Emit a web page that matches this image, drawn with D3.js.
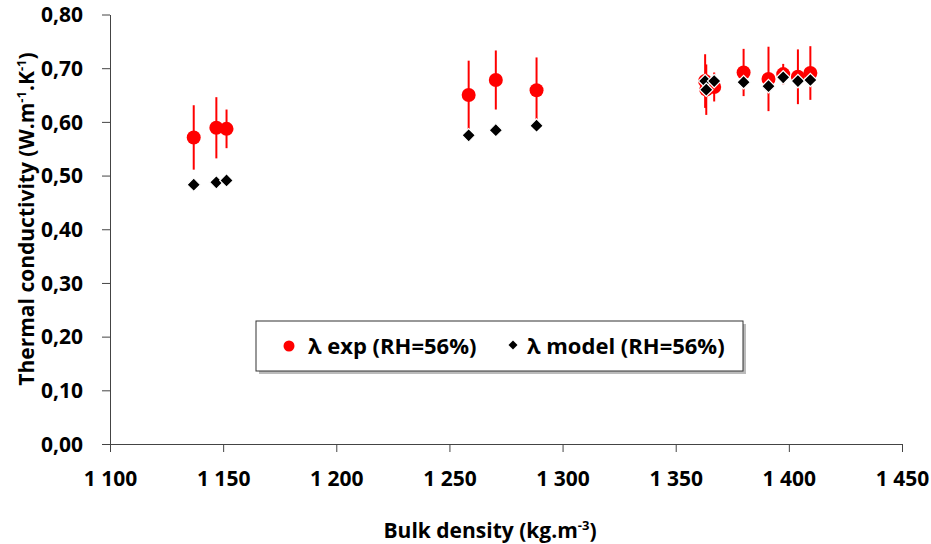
<!DOCTYPE html>
<html lang="en">
<head>
<meta charset="utf-8">
<title>Thermal conductivity vs bulk density</title>
<script src="https://d3js.org/d3.v7.min.js"></script>
<style>
  body { margin: 0; background: #fff; }
  svg { display: block; font-family: "Open Sans", sans-serif; font-weight: bold; }
</style>
</head>
<body>
<div id="chart"></div>
<script>
// bulk density (kg.m-3) of each sample
var density = [1137, 1147, 1151.5, 1258.5, 1270.5, 1288.5, 1363, 1363.5, 1367, 1380, 1391, 1397.5, 1404, 1409.5];
// measured conductivity and its error
var lambdaExp = [0.571, 0.589, 0.587, 0.650, 0.678, 0.659, 0.676, 0.660, 0.665, 0.692, 0.680, 0.689, 0.684, 0.691];
var lambdaErr = [0.060, 0.057, 0.036, 0.064, 0.055, 0.061, 0.050, 0.047, 0.027, 0.044, 0.060, 0.019, 0.051, 0.050];
// modelled conductivity
var lambdaModel = [0.483, 0.4875, 0.491, 0.575, 0.5845, 0.593, 0.676, 0.660, 0.676, 0.674, 0.6665, 0.683, 0.676, 0.678];

var xTicks = [1100, 1150, 1200, 1250, 1300, 1350, 1400, 1450];
var yTicks = [0, 0.1, 0.2, 0.3, 0.4, 0.5, 0.6, 0.7, 0.8];
var seriesNames = ["λ exp (RH=56%)", "λ model (RH=56%)"];

var width = 931, height = 544;
var margin = {top: 14.5, right: 29, bottom: 100, left: 110};

var svg = d3.select("#chart").append("svg")
  .attr("width", width)
  .attr("height", height);

var x = d3.scaleLinear()
  .domain([1100, 1450])
  .range([margin.left, width - margin.right]);

var y = d3.scaleLinear()
  .domain([0, 0.8])
  .range([height - margin.bottom, margin.top]);

var fmtX = d => d3.format(",")(d).replace(",", " ");
var fmtY = d => d3.format(".2f")(d).replace(".", ",");

var xAxis = g => g
  .attr("transform", `translate(0,${y(0)})`)
  .call(d3.axisBottom(x).tickValues(xTicks).tickFormat(fmtX).tickSize(8).tickSizeOuter(0))
  .call(g => g.selectAll("text").attr("dy", 0).attr("y", 42)
    .style("font-size", "21px").style("font-family", "Open Sans").style("font-weight", "bold").attr("fill", "#000"))
  .call(g => g.selectAll("line, path").attr("stroke", "#444"));

var yAxis = g => g
  .attr("transform", `translate(${x(1100)},0)`)
  .call(d3.axisLeft(y).tickValues(yTicks).tickFormat(fmtY).tickSize(8).tickSizeOuter(0))
  .call(g => g.selectAll("text").attr("x", -27).attr("dy", "0.35em")
    .style("font-size", "21px").style("font-family", "Open Sans").style("font-weight", "bold").attr("fill", "#000"))
  .call(g => g.selectAll("line, path").attr("stroke", "#444"));

svg.append("g").call(xAxis);
svg.append("g").call(yAxis);

var data = density.map((d, i) => ({
  density: d, exp: lambdaExp[i], err: lambdaErr[i], model: lambdaModel[i]
}));

// error bars
svg.append("g")
  .attr("stroke", "#ff0000")
  .attr("stroke-width", 2)
  .selectAll("line")
  .data(data)
  .join("line")
    .attr("x1", d => x(d.density))
    .attr("x2", d => x(d.density))
    .attr("y1", d => y(d.exp + d.err))
    .attr("y2", d => y(d.exp - d.err));

// measured points
svg.append("g")
  .attr("fill", "#ff0000")
  .selectAll("circle")
  .data(data)
  .join("circle")
    .attr("cx", d => x(d.density))
    .attr("cy", d => y(d.exp))
    .attr("r", 7);

// model points (diamonds)
var diamond = d3.symbol().type(d3.symbolSquare).size(90);
svg.append("g")
  .attr("fill", "#000")
  .attr("stroke", "#fff")
  .attr("stroke-width", 1.2)
  .selectAll("path")
  .data(data)
  .join("path")
    .attr("d", diamond)
    .attr("transform", d => `translate(${x(d.density)},${y(d.model)}) rotate(45)`);

// legend
var legend = svg.append("g").attr("transform", "translate(256,321)");
legend.append("rect")
  .attr("x", 3).attr("y", 3)
  .attr("width", 487).attr("height", 50)
  .attr("fill", "#bbb");
legend.append("rect")
  .attr("width", 487).attr("height", 50)
  .attr("fill", "#fff")
  .attr("stroke", "#333")
  .attr("stroke-width", 1);
legend.append("circle")
  .attr("cx", 33).attr("cy", 25).attr("r", 5.5)
  .attr("fill", "#ff0000");
legend.append("text")
  .attr("x", 52).attr("y", 25).attr("dy", "0.35em")
  .style("font-size", "22px")
  .text(seriesNames[0]);
legend.append("path")
  .attr("d", d3.symbol().type(d3.symbolSquare).size(40))
  .attr("transform", "translate(257,24) rotate(45)")
  .attr("fill", "#000");
legend.append("text")
  .attr("x", 271).attr("y", 25).attr("dy", "0.35em")
  .style("font-size", "22px")
  .text(seriesNames[1]);

// axis titles
var xt = svg.append("text")
  .attr("x", 490).attr("y", 538)
  .attr("text-anchor", "middle")
  .style("font-size", "21px");
xt.append("tspan").text("Bulk density (kg.m");
xt.append("tspan").attr("dy", -8).style("font-size", "13px").text("-3");
xt.append("tspan").attr("dy", 8).text(")");

var yt = svg.append("text")
  .attr("transform", "translate(34,219) rotate(-90)")
  .attr("text-anchor", "middle")
  .style("font-size", "21px");
yt.append("tspan").text("Thermal conductivity (W.m");
yt.append("tspan").attr("dy", -8).style("font-size", "13px").text("-1");
yt.append("tspan").attr("dy", 8).text(".K");
yt.append("tspan").attr("dy", -8).style("font-size", "13px").text("-1");
yt.append("tspan").attr("dy", 8).text(")");
</script>
</body>
</html>
